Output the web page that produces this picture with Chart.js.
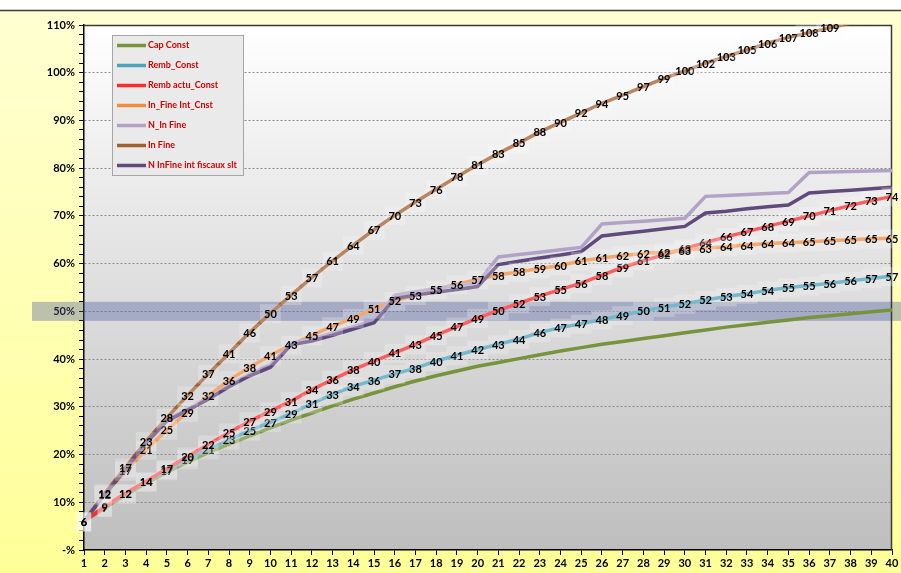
<!DOCTYPE html>
<html>
<head>
<meta charset="utf-8">
<title>Courbes de remboursement</title>
<script src="https://cdn.jsdelivr.net/npm/chart.js@4.4.1/dist/chart.umd.min.js"></script>
<style>
    html, body { margin: 0; padding: 0; background: #fff; }
    #wrap { width: 901px; height: 573px; }
</style>
</head>
<body>
<div id="wrap"><canvas id="chart" width="901" height="573"></canvas></div>
<script>
// years on the x axis
const years = ['1', '2', '3', '4', '5', '6', '7', '8', '9', '10',
    '11', '12', '13', '14', '15', '16', '17', '18', '19', '20',
    '21', '22', '23', '24', '25', '26', '27', '28', '29', '30',
    '31', '32', '33', '34', '35', '36', '37', '38', '39', '40'];

// cumulated cost, in % of the borrowed capital
const capConst = [6.0, 8.8, 11.5, 14.0, 16.3, 18.4, 20.4, 22.2, 23.9, 25.6,
    27.2, 28.7, 30.2, 31.6, 32.9, 34.2, 35.4, 36.5, 37.5, 38.5,
    39.3, 40.1, 40.9, 41.7, 42.4, 43.1, 43.7, 44.3, 44.9, 45.5,
    46.1, 46.7, 47.2, 47.7, 48.2, 48.7, 49.1, 49.5, 49.9, 50.3];
const rembConst = [6.0, 9.0, 11.8, 14.3, 16.7, 19.0, 21.1, 23.1, 25.0, 26.8,
    28.6, 30.7, 32.6, 34.3, 35.6, 36.9, 38.1, 39.6, 40.8, 42.0,
    43.1, 44.2, 45.6, 46.6, 47.4, 48.3, 49.2, 50.1, 50.9, 51.6,
    52.4, 53.1, 53.7, 54.4, 55.0, 55.4, 55.9, 56.4, 56.9, 57.4];
const rembActuConst = [6.0, 9.1, 11.9, 14.4, 17.0, 19.6, 22.1, 24.6, 27.0, 29.1,
    31.2, 33.6, 35.7, 37.8, 39.6, 41.3, 43.1, 45.0, 46.8, 48.6,
    50.2, 51.7, 53.2, 54.6, 55.9, 57.6, 59.2, 60.6, 61.9, 63.2,
    64.4, 65.6, 66.7, 67.8, 68.9, 70.0, 71.1, 72.2, 73.2, 74.1];
const inFineIntCnst = [6.0, 11.6, 16.6, 21.0, 25.2, 28.9, 32.3, 35.6, 38.3, 40.8,
    43.0, 45.0, 46.9, 48.6, 50.6, 52.2, 53.4, 54.6, 55.7, 56.7,
    57.6, 58.3, 59.0, 59.6, 60.6, 61.2, 61.7, 62.1, 62.4, 62.8,
    63.2, 63.6, 63.9, 64.2, 64.4, 64.6, 64.8, 65.0, 65.2, 65.3];
const nInFine = [6.0, 11.8, 17.0, 22.6, 27.2, 29.6, 31.8, 34.5, 36.8, 38.8,
    43.3, 44.2, 45.5, 46.8, 48.2, 53.4, 54.1, 54.8, 55.4, 56.0,
    61.4, 61.9, 62.4, 62.9, 63.4, 68.3, 68.6, 68.9, 69.2, 69.5,
    74.1, 74.3, 74.5, 74.7, 74.9, 79.1, 79.2, 79.3, 79.4, 79.5];
const inFine = [6.0, 11.9, 17.3, 22.8, 27.7, 32.4, 36.9, 41.2, 45.6, 49.6,
    53.4, 57.1, 60.6, 63.9, 67.1, 70.1, 72.9, 75.6, 78.2, 80.7,
    83.1, 85.3, 87.6, 89.6, 91.6, 93.6, 95.3, 97.1, 98.8, 100.4,
    102.0, 103.4, 104.8, 106.2, 107.4, 108.4, 109.4, 110.4, 111.4, 112.3];
const nInFineFiscal = [6.0, 11.6, 16.8, 22.4, 27.0, 29.3, 31.6, 34.2, 36.5, 38.3,
    43.0, 43.8, 45.0, 46.3, 47.6, 52.7, 53.4, 54.0, 54.6, 55.2,
    59.8, 60.5, 61.2, 61.8, 62.5, 65.8, 66.3, 66.8, 67.3, 67.8,
    70.6, 71.0, 71.5, 71.9, 72.3, 74.8, 75.1, 75.4, 75.7, 76.0];

const seriesNames = ['Cap Const', 'Remb_Const', 'Remb actu_Const', 'In_Fine Int_Cnst',
    'N_In Fine', 'In Fine', 'N InFine int fiscaux slt'];
const seriesColors = ['#77933C', '#4BA3BC', '#FF2A2A', '#F28C3E',
    '#B3A2C7', '#A25F2E', '#604A7B'];
const seriesData = [capConst, rembConst, rembActuConst, inFineIntCnst, nInFine, inFine, nInFineFiscal];
// only these series get value labels
const labelledSeries = [1, 2, 3, 5];

// highlighted zone around 50%
const bandLow = 48;
const bandHigh = 52;

const yMax = 110;

const fontFamily = 'Lato, "Liberation Sans", sans-serif';
const labelFont = 'bold 11px ' + fontFamily;

const backgroundPlugin = {
    id: 'background',
    beforeDraw(chart) {
        const ctx = chart.ctx;
        const area = chart.chartArea;
        ctx.save();
        ctx.fillStyle = '#ffffff';
        ctx.fillRect(0, 0, chart.width, chart.height);

        // yellow frame
        let g = ctx.createLinearGradient(0, 10, 0, chart.height);
        g.addColorStop(0, '#FFFFD2');
        g.addColorStop(1, '#FFFF98');
        ctx.fillStyle = g;
        ctx.fillRect(0, 10, chart.width, chart.height - 10);
        ctx.strokeStyle = '#3c3c3c';
        ctx.lineWidth = 1.5;
        ctx.beginPath();
        ctx.moveTo(0, 10.5);
        ctx.lineTo(chart.width, 10.5);
        ctx.stroke();

        // plot area, white to grey
        g = ctx.createLinearGradient(0, area.top, 0, area.bottom);
        g.addColorStop(0, '#FFFFFF');
        g.addColorStop(1, '#BEBEBE');
        ctx.fillStyle = g;
        ctx.fillRect(area.left, area.top, area.right - area.left, area.bottom - area.top);
        ctx.restore();
    },
    beforeDatasetsDraw(chart) {
        const ctx = chart.ctx;
        const area = chart.chartArea;
        const y = chart.scales.y;
        const top = y.getPixelForValue(bandHigh);
        const bottom = y.getPixelForValue(bandLow);
        ctx.save();
        ctx.fillStyle = 'rgba(80, 92, 160, 0.38)';
        ctx.fillRect(32, top, chart.width - 32, bottom - top);

        ctx.strokeStyle = '#3a3a3a';
        ctx.lineWidth = 1.5;
        ctx.beginPath();
        ctx.moveTo(area.left, area.top + 0.5);
        ctx.lineTo(area.right - 0.5, area.top + 0.5);
        ctx.lineTo(area.right - 0.5, area.bottom);
        ctx.stroke();
        ctx.restore();
    }
};

const valueLabelsPlugin = {
    id: 'valueLabels',
    afterDatasetsDraw(chart) {
        const ctx = chart.ctx;
        ctx.save();
        ctx.font = labelFont;
        ctx.textAlign = 'center';
        ctx.textBaseline = 'middle';
        labelledSeries.forEach(i => {
            const meta = chart.getDatasetMeta(i);
            const values = chart.data.datasets[i].data;
            meta.data.forEach((pt, j) => {
                const v = values[j];
                if (v > yMax) return;
                const text = String(Math.round(v));
                const w = ctx.measureText(text).width;
                ctx.fillStyle = 'rgba(250, 250, 250, 0.25)';
                ctx.fillRect(pt.x - w / 2 - 4, pt.y - 9, w + 8, 19);
                ctx.fillStyle = '#000';
                ctx.fillText(text, pt.x, pt.y + 1);
            });
        });
        ctx.restore();
    }
};

// legend box drawn inside the plot, top left
const boxLegendPlugin = {
    id: 'boxLegend',
    afterDraw(chart) {
        const ctx = chart.ctx;
        const x = 112.5, y = 35.5, w = 131, h = 140;
        ctx.save();
        ctx.fillStyle = '#EAEAEA';
        ctx.fillRect(x, y, w, h);
        ctx.strokeStyle = '#A6A6A6';
        ctx.lineWidth = 1;
        ctx.strokeRect(x, y, w, h);
        ctx.font = 'bold 9px ' + fontFamily;
        ctx.textBaseline = 'middle';
        chart.data.datasets.forEach((ds, i) => {
            const rowY = 45.5 + i * 20;
            ctx.strokeStyle = ds.borderColor;
            ctx.lineWidth = 3.5;
            ctx.beginPath();
            ctx.moveTo(117, rowY);
            ctx.lineTo(146, rowY);
            ctx.stroke();
            ctx.fillStyle = '#D20000';
            ctx.fillText(ds.label, 148, rowY);
        });
        ctx.restore();
    }
};

const datasets = seriesNames.map((name, i) => ({
    label: name,
    data: seriesData[i],
    borderColor: seriesColors[i],
    backgroundColor: seriesColors[i],
    borderWidth: 3.5,
    pointRadius: 0,
    tension: 0,
    fill: false,
    // later series are painted on top
    order: seriesNames.length - i
}));

new Chart(document.getElementById('chart'), {
    type: 'line',
    data: { labels: years, datasets: datasets },
    options: {
        responsive: false,
        animation: false,
        devicePixelRatio: 1,
        layout: { padding: { top: 25, right: 9, left: 0, bottom: 0 } },
        plugins: {
            legend: { display: false },
            tooltip: { enabled: false }
        },
        scales: {
            x: {
                type: 'category',
                offset: false,
                grid: {
                    drawOnChartArea: false,
                    drawTicks: true,
                    tickLength: 5,
                    tickColor: '#000'
                },
                border: { color: '#000', width: 1.5 },
                ticks: {
                    autoSkip: false,
                    maxRotation: 0,
                    padding: 2,
                    color: '#000',
                    font: { family: fontFamily, size: 11, weight: 'bold' }
                },
                afterFit: s => { s.height = 23; }
            },
            y: {
                min: 0,
                max: yMax,
                grid: {
                    color: c => (c.tick && c.tick.value % 10 === 0 && c.tick.value > 0 && c.tick.value < yMax) ? '#8a8a8a' : 'rgba(0,0,0,0)',
                    lineWidth: 1,
                    drawTicks: true,
                    tickLength: 5,
                    tickColor: '#000'
                },
                border: { color: '#000', width: 1.5, dash: [2, 2] },
                ticks: {
                    stepSize: 2,
                    autoSkip: false,
                    maxTicksLimit: 100,
                    padding: 4,
                    color: '#000',
                    font: { family: fontFamily, size: 11, weight: 'bold' },
                    callback: v => v % 10 !== 0 ? '' : (v === 0 ? '-%' : v + '%')
                },
                afterFit: s => { s.width = 84; }
            }
        }
    },
    plugins: [backgroundPlugin, valueLabelsPlugin, boxLegendPlugin]
});
</script>
</body>
</html>
